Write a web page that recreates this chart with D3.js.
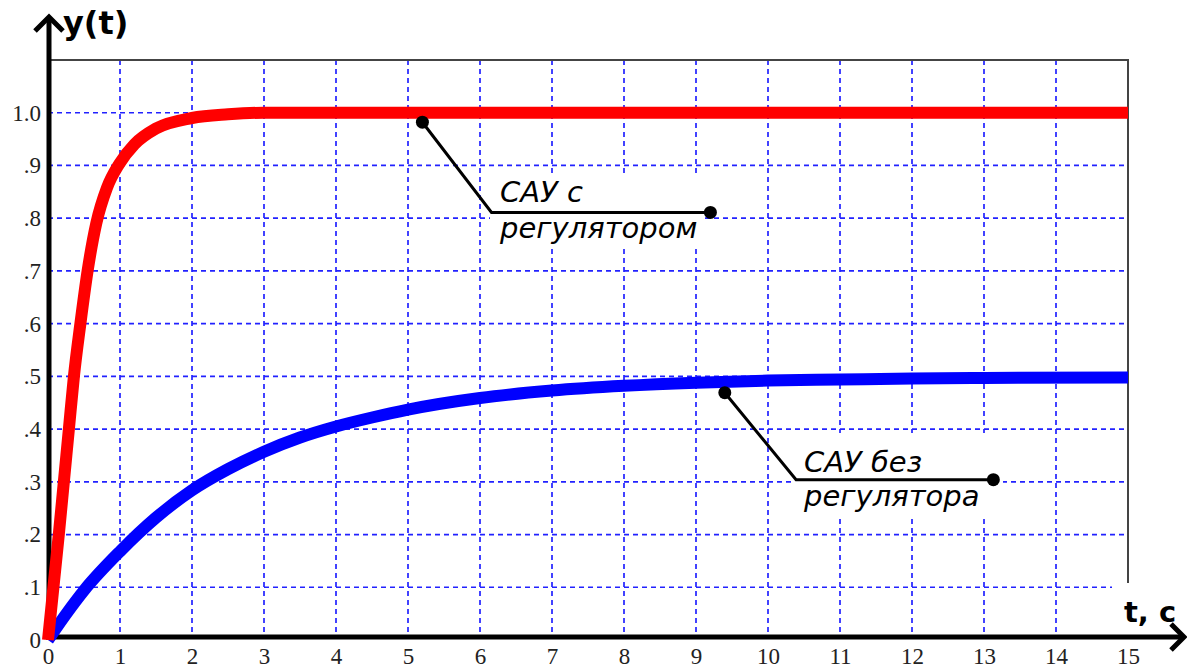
<!DOCTYPE html>
<html><head><meta charset="utf-8">
<script src="https://cdn.jsdelivr.net/npm/d3@7/dist/d3.min.js"></script>
<style>html,body{margin:0;padding:0;background:#fff;}svg{display:block;}</style>
</head><body>
<script>
// ---- data ----
const xTicks = [0,1,2,3,4,5,6,7,8,9,10,11,12,13,14,15];
const yTickValues = [0,0.1,0.2,0.3,0.4,0.5,0.6,0.7,0.8,0.9,1.0];
const yTickLabels = ["0",".1",".2",".3",".4",".5",".6",".7",".8",".9","1.0"];
const redT = [0,0.075,0.15,0.22,0.29,0.36,0.45,0.55,0.67,0.82,0.99,1.2,1.5,2.0,2.5,3,15];
const redY = [0,0.1,0.2,0.3,0.4,0.5,0.6,0.7,0.79,0.858,0.903,0.94,0.97,0.99,0.997,1,1];
const blueT = [0,0.25,0.5,1,1.5,2,2.5,3,3.5,4,4.5,5,6,7,8,9,10,11,12,13,15];
const blueY = [0,0.049,0.094,0.168,0.232,0.284,0.324,0.357,0.384,0.405,0.422,0.437,0.459,0.473,0.482,0.488,0.492,0.494,0.496,0.497,0.498];
const note1Lines = ["САУ с","регулятором"];
const note1Pts = [[5.2,0.982],[6.16,0.811],[9.2,0.811]];
const note2Lines = ["САУ без","регулятора"];
const note2Pts = [[9.4,0.469],[10.39,0.304],[13.13,0.304]];
const yTitle = "y(t)";
const xTitle = "t, c";

// ---- layout ----
const W = 1187, H = 671;
const svg = d3.select("body").append("svg").attr("width",W).attr("height",H);
const x = d3.scaleLinear().domain([0,15]).range([48,1128]);
const y = d3.scaleLinear().domain([0,1.1]).range([640,60]);

// grid
const grid = svg.append("g").attr("stroke","#2222ff").attr("stroke-width",1.7).attr("stroke-dasharray","5,4");
xTicks.filter(d=>d>0&&d<15).forEach(d=>{
  grid.append("line").attr("x1",x(d)).attr("x2",x(d)).attr("y1",y(1.1)).attr("y2",634);
});
yTickValues.filter(d=>d>0).forEach(d=>{
  grid.append("line").attr("x1",x(0)).attr("x2",x(15)).attr("y1",y(d)).attr("y2",y(d));
});

// frame (top and right)
svg.append("path").attr("d",`M${x(0)},${y(1.1)}H${x(15)}V583`).attr("fill","none").attr("stroke","#444").attr("stroke-width",2);

// white boxes behind annotations
svg.append("rect").attr("x",490).attr("y",175).attr("width",215).attr("height",73).attr("fill","#fff");
svg.append("rect").attr("x",795).attr("y",433).attr("width",208).attr("height",85).attr("fill","#fff");
svg.append("rect").attr("x",1112).attr("y",583).attr("width",75).attr("height",49).attr("fill","#fff");

// axes
const ax = svg.append("g").attr("stroke","#000").attr("fill","none").attr("stroke-width",5);
ax.append("line").attr("x1",49).attr("x2",49).attr("y1",17).attr("y2",640);
ax.append("path").attr("d","M35,31L49,17L63,31").attr("stroke-linejoin","miter");
ax.append("line").attr("x1",46).attr("x2",1184).attr("y1",637).attr("y2",637);
ax.append("path").attr("d","M1171,624L1184,637L1171,650");

// tick labels
const xAxis = d3.axisBottom(x).tickValues(xTicks).tickSize(0).tickPadding(0).tickFormat(d3.format("d"));
const gx = svg.append("g").attr("transform","translate(0,664)").call(xAxis);
gx.select(".domain").remove();
gx.selectAll("text").attr("font-family","'Liberation Serif','Times New Roman',serif").attr("font-size",23).attr("fill","#222").attr("y",0).attr("dy","0");
const yAxis = d3.axisLeft(y).tickValues(yTickValues).tickSize(0).tickPadding(8).tickFormat((d,i)=>yTickLabels[i]);
const gy = svg.append("g").attr("transform","translate(49,0)").call(yAxis);
gy.select(".domain").remove();
gy.selectAll("text").attr("font-family","'Liberation Serif','Times New Roman',serif").attr("font-size",23).attr("fill","#222");

// curves
const line = d3.line().x(d=>x(d[0])).y(d=>y(d[1])).curve(d3.curveMonotoneX);
svg.append("path").datum(blueT.map((t,i)=>[t,blueY[i]])).attr("d",line).attr("fill","none").attr("stroke","#0000ff").attr("stroke-width",12);
svg.append("path").datum(redT.map((t,i)=>[t,redY[i]])).attr("d",line).attr("fill","none").attr("stroke","#ff0000").attr("stroke-width",12);

// annotations
function note(pts, lines, tx, ty1, ty2){
  const g = svg.append("g");
  g.append("path").attr("d", d3.line().x(d=>x(d[0])).y(d=>y(d[1]))(pts)).attr("fill","none").attr("stroke","#000").attr("stroke-width",3);
  [pts[0], pts[2]].forEach(p=>g.append("circle").attr("cx",x(p[0])).attr("cy",y(p[1])).attr("r",6.5).attr("fill","#000"));
  g.append("text").attr("x",tx).attr("y",ty1).text(lines[0]);
  g.append("text").attr("x",tx).attr("y",ty2).text(lines[1]);
  g.selectAll("text").attr("font-family","'DejaVu Sans',Verdana,sans-serif").attr("font-style","italic").attr("font-size",29).attr("fill","#000");
}
note(note1Pts, note1Lines, 500, 202, 238);
note(note2Pts, note2Lines, 804, 472, 506);

// axis titles
svg.append("text").attr("x",63).attr("y",34).text(yTitle).attr("font-family","'DejaVu Sans',Verdana,sans-serif").attr("font-weight","bold").attr("font-size",32).attr("fill","#000");
svg.append("text").attr("x",1124).attr("y",622).text(xTitle).attr("font-family","'DejaVu Sans',Verdana,sans-serif").attr("font-weight","bold").attr("font-size",29).attr("fill","#000");
</script>
</body></html>
